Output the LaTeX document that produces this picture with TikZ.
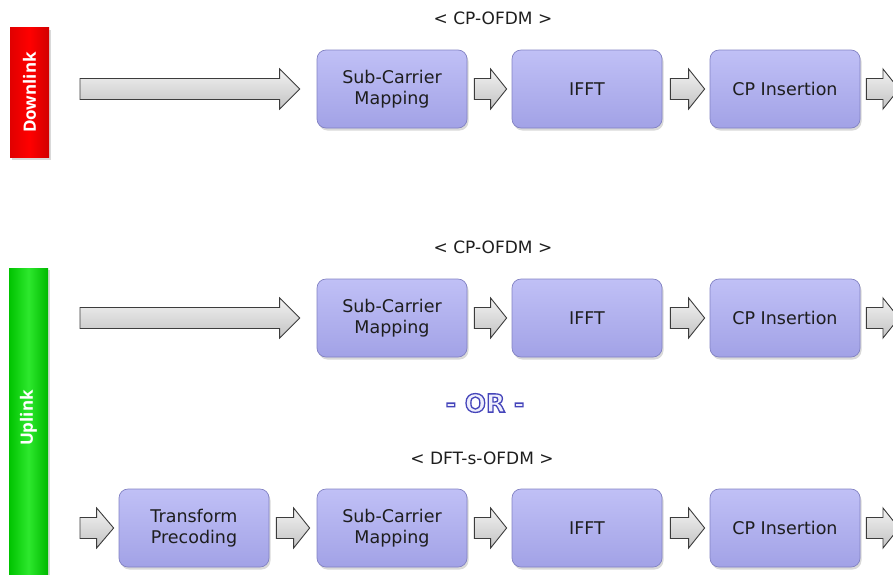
\documentclass[tikz,border=0pt]{standalone}
\usepackage{fontspec}
\setmainfont{DejaVu Sans}
\newfontfamily\barfont{Open Sans}
\usetikzlibrary{calc,shadows}
\definecolor{boxtop}{RGB}{192,192,246}
\definecolor{boxbot}{RGB}{162,162,230}
\definecolor{boxedge}{RGB}{130,130,195}
\definecolor{txt}{RGB}{30,30,30}
\definecolor{arrtop}{RGB}{242,242,242}
\definecolor{arrbot}{RGB}{195,195,195}
\definecolor{arredge}{RGB}{60,60,60}
\definecolor{orfill}{RGB}{238,238,252}
\newcommand\blockarrow[3]{\path[blockarr] let \p1=#1, \p2=#2 in
  (\x1,{\y1+10.5pt}) -- ({\x2-#3pt},{\y1+10.5pt}) -- ({\x2-#3pt},{\y1+20pt})
  -- (\x2,\y1) -- ({\x2-#3pt},{\y1-20pt}) -- ({\x2-#3pt},{\y1-10.5pt})
  -- (\x1,{\y1-10.5pt}) -- cycle;}
\newcommand\outlinetext[1]{\special{pdf:literal direct 2 Tr 1.3 w 0.27 0.27 0.73 RG}#1\special{pdf:literal direct 0 Tr}}
\begin{document}
\begin{tikzpicture}[x=1pt,y=-1pt,
  procbox/.style={rounded corners=9pt, minimum width=150pt, minimum height=78pt,
    top color=boxtop, bottom color=boxbot, draw=boxedge, line width=0.7pt,
    align=center, font=\fontsize{17.5}{21}\selectfont, text=txt,
    drop shadow={opacity=0.3, shadow xshift=1.5pt, shadow yshift=-2.5pt}},
  blockarr/.style={top color=arrtop, bottom color=arrbot, draw=arredge, line width=0.9pt, line join=miter},
  sidebar/.style={minimum width=39pt, inner sep=0pt, draw=none,
    drop shadow={opacity=0.3, shadow xshift=1.5pt, shadow yshift=-2pt}},
  bartext/.style={text=white, font=\barfont\bfseries\fontsize{17}{20}\selectfont, rotate=90},
  modlabel/.style={font=\fontsize{17}{20}\selectfont, text=txt},
  ortext/.style={font=\bfseries\fontsize{25}{28}\selectfont, text=orfill}]
\useasboundingbox (0,0) rectangle (893,574);
\clip (0,0) rectangle (893,574);

% side bars
\node[sidebar, minimum height=130pt, left color=red!88!black, right color=red!82!black, middle color=red] (dlbar) at (29.5,92.5) {};
\node[bartext] (dltext) at (dlbar.center) {Downlink};
\node[sidebar, minimum height=312pt, left color={rgb,255:red,0;green,195;blue,0}, right color={rgb,255:red,0;green,185;blue,0}, middle color={rgb,255:red,45;green,232;blue,45}] (ulbar) at (28.5,424) {};
\node[bartext] (ultext) at (28.5,418) {Uplink};

% labels
\node[modlabel] (lab1) at (493,18) {< CP-OFDM >};
\node[modlabel] (lab2) at (493,247) {< CP-OFDM >};
\node[modlabel] (lab3) at (482,458) {< DFT-s-OFDM >};

% OR
\node[ortext] (or) at (485,403) {\outlinetext{- OR -}};

% row 1 (downlink)
\node[procbox] (d1) at (392,89) {Sub-Carrier\\Mapping};
\node[procbox] (d2) at (587,89) {IFFT};
\node[procbox] (d3) at (785,89) {CP Insertion};
\coordinate (din) at (80,89);
\coordinate (dout) at (899,89);
\blockarrow{(din)}{($(d1.west)+(-17,0)$)}{20}
\blockarrow{($(d1.east)+(7,0)$)}{($(d2.west)+(-5,0)$)}{16}
\blockarrow{($(d2.east)+(8,0)$)}{($(d3.west)+(-5,0)$)}{16}
\blockarrow{($(d3.east)+(6,0)$)}{(dout)}{16}

% row 2 (uplink CP-OFDM)
\node[procbox] (u1) at (392,318) {Sub-Carrier\\Mapping};
\node[procbox] (u2) at (587,318) {IFFT};
\node[procbox] (u3) at (785,318) {CP Insertion};
\coordinate (uin) at (80,318);
\coordinate (uout) at (899,318);
\blockarrow{(uin)}{($(u1.west)+(-17,0)$)}{20}
\blockarrow{($(u1.east)+(7,0)$)}{($(u2.west)+(-5,0)$)}{16}
\blockarrow{($(u2.east)+(8,0)$)}{($(u3.west)+(-5,0)$)}{16}
\blockarrow{($(u3.east)+(6,0)$)}{(uout)}{16}

% row 3 (uplink DFT-s-OFDM)
\node[procbox] (t0) at (194,528) {Transform\\Precoding};
\node[procbox] (t1) at (392,528) {Sub-Carrier\\Mapping};
\node[procbox] (t2) at (587,528) {IFFT};
\node[procbox] (t3) at (785,528) {CP Insertion};
\coordinate (tin) at (80,528);
\coordinate (tout) at (899,528);
\blockarrow{(tin)}{($(t0.west)+(-5,0)$)}{17}
\blockarrow{($(t0.east)+(7,0)$)}{($(t1.west)+(-7,0)$)}{16}
\blockarrow{($(t1.east)+(7,0)$)}{($(t2.west)+(-5,0)$)}{16}
\blockarrow{($(t2.east)+(8,0)$)}{($(t3.west)+(-5,0)$)}{16}
\blockarrow{($(t3.east)+(6,0)$)}{(tout)}{16}
\end{tikzpicture}
\end{document}
